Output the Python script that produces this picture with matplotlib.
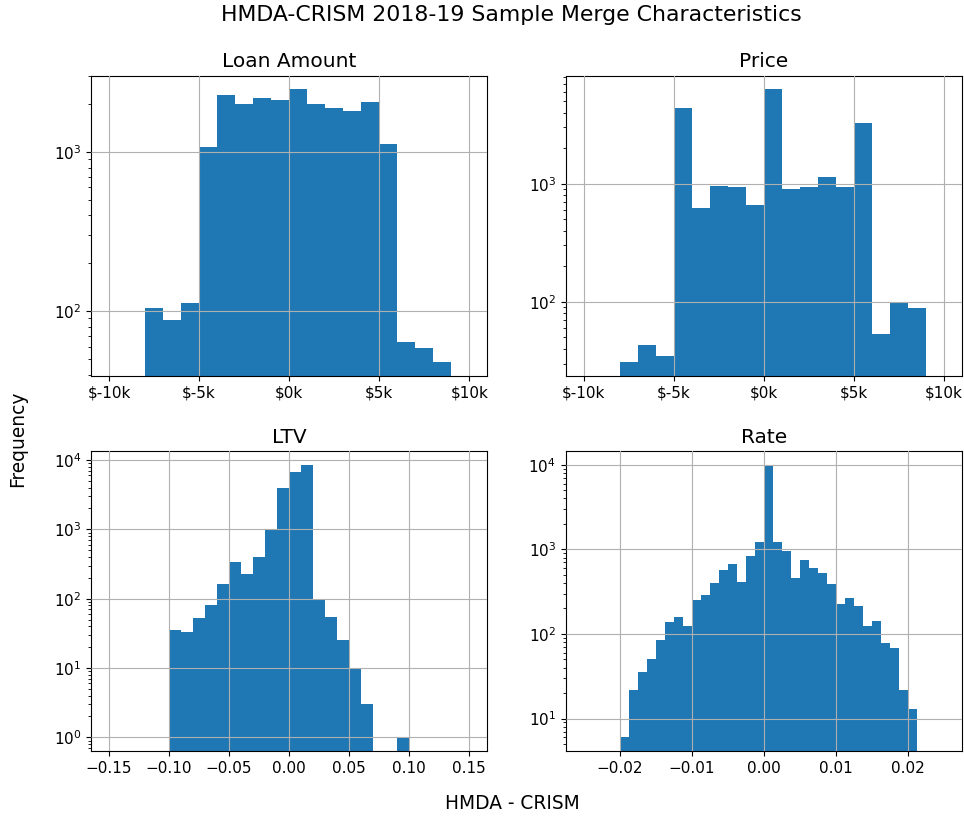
import numpy as np
import matplotlib
matplotlib.use("Agg")
import matplotlib.pyplot as plt
from matplotlib.ticker import FuncFormatter, MultipleLocator

# histogram bins and counts (HMDA minus CRISM differences)
loan_edges = np.arange(-8000, 9001, 1000)
loan_counts = [105, 88, 112, 1075, 2270, 2020, 2175, 2120, 2480, 2020,
               1900, 1815, 2070, 1130, 64, 59, 48]

price_edges = np.arange(-8000, 9001, 1000)
price_counts = [31, 43, 35, 4385, 627, 956, 933, 664, 6280, 907,
                933, 1146, 933, 3245, 53, 99, 89]

ltv_edges = np.linspace(-0.10, 0.10, 21)
ltv_counts = [35, 33, 53, 80, 164, 336, 224, 398, 1000, 3936,
              6620, 8550, 98, 55, 25, 10, 3, 0, 0, 1]

rate_edges = np.linspace(-0.02, 0.02125, 34)
rate_counts = [6, 22, 36, 51, 86, 140, 160, 124, 253, 290, 405, 565, 673,
               408, 835, 1210, 10000, 1210, 946, 463, 741, 604, 521, 386,
               224, 267, 215, 124, 142, 79, 69, 22, 13]

titles = ["Loan Amount", "Price", "LTV", "Rate"]
panels = [(loan_edges, loan_counts), (price_edges, price_counts),
          (ltv_edges, ltv_counts), (rate_edges, rate_counts)]
xlims = [(-11000, 11000), (-11000, 11000), (-0.165, 0.165), (-0.0275, 0.0275)]
xsteps = [5000, 5000, 0.05, 0.01]

plt.rcParams["xtick.labelsize"] = 11
plt.rcParams["ytick.labelsize"] = 11

fig, axes = plt.subplots(2, 2, figsize=(9.64, 8.16), dpi=100)
fig.subplots_adjust(left=0.0944, right=0.9979, top=0.9072, bottom=0.0797,
                    wspace=0.198, hspace=0.252)

dollars = FuncFormatter(lambda v, pos: f"${v / 1000:.0f}k")
decimals = FuncFormatter(lambda v, pos: f"{v:.2f}".replace("-", "\u2212"))

for ax, title, (edges, counts), xl, step in zip(axes.flat, titles, panels, xlims, xsteps):
    centers = (edges[:-1] + edges[1:]) / 2
    ax.hist(centers, bins=edges, weights=counts, log=True, color="#1f77b4")
    ax.set_title(title, fontsize=14.5)
    ax.set_xlim(*xl)
    ax.xaxis.set_major_locator(MultipleLocator(step))
    ax.grid(True, color="#b0b0b0", linewidth=0.8)
    ax.set_axisbelow(False)

for ax in axes[0]:
    ax.xaxis.set_major_formatter(dollars)
for ax in axes[1]:
    ax.xaxis.set_major_formatter(decimals)

fig.text(0.530, 0.9743, "HMDA-CRISM 2018-19 Sample Merge Characteristics",
         ha="center", va="baseline", fontsize=15.8)
fig.text(0.531, 0.0085, "HMDA - CRISM", ha="center", va="baseline", fontsize=13.4)
fig.text(0.018, 0.462, "Frequency", rotation=90, ha="center", va="center", fontsize=13.4)

fig.savefig("out.png", dpi=100)
